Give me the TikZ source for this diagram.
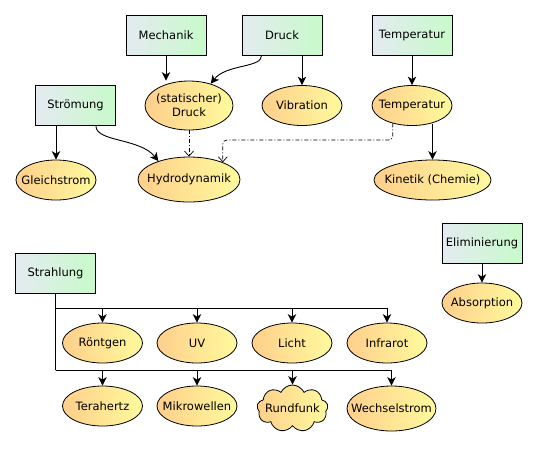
\documentclass[tikz,border=0pt]{standalone}
\usepackage{fontspec}
\setmainfont{DejaVu Sans}
\usetikzlibrary{arrows.meta,shapes.geometric,shapes.symbols,calc}
\definecolor{boxL}{HTML}{E4EBF1}
\definecolor{boxR}{HTML}{C8FACA}
\definecolor{ellL}{HTML}{FFCF8C}
\definecolor{ellR}{HTML}{FFFA9C}
\newcommand{\zt}[1]{\makebox[0pt][c]{#1}}
\tikzset{
  box/.style={draw=black, line width=0.9pt, left color=boxL, right color=boxR,
    minimum width=80, minimum height=40, inner sep=0pt, font=\fontsize{11.5}{13.5}\selectfont},
  ell/.style={ellipse, draw=black, line width=0.8pt, left color=ellL, right color=ellR,
    minimum width=80, minimum height=40, inner sep=0pt, font=\fontsize{11.5}{13.5}\selectfont, align=center},
  cld/.style={cloud, cloud puffs=9, cloud puff arc=130, aspect=1.5, draw=black, line width=0.8pt,
    left color=ellL, right color=ellR, minimum width=71, minimum height=47, inner sep=0pt,
    font=\fontsize{11.5}{13.5}\selectfont},
  arr/.style={line width=0.9pt, -{Stealth[length=8.5pt,width=8.5pt,inset=2.5pt]}},
  darr/.style={line width=0.7pt, dash pattern=on 4pt off 2pt on 1pt off 2pt,
    -{Straight Barb[length=5pt,width=9pt]}, rounded corners=4pt},
}
\begin{document}
\begin{tikzpicture}[x=1pt,y=-1pt]
\useasboundingbox (0,0) rectangle (538,451);
% boxes
\node[box] (mech) at (166,35) {Mechanik};
\node[box] (druck) at (282,35) {Druck};
\node[box] (tempB) at (412,35) {Temperatur};
\node[box] (stroem) at (75.5,105.5) {Strömung};
\node[box] (strahl) at (55.5,273) {Strahlung};
\node[box] (elim) at (482,243) {Eliminierung};
% ellipses
\node[ell, minimum width=88, minimum height=49] (sd) at (189,105.5) {\zt{\shortstack{(statischer)\\[1pt]Druck}}};
\node[ell] (vib) at (302,105.5) {\zt{Vibration}};
\node[ell] (tempE) at (412,105.5) {\zt{Temperatur}};
\node[ell] (gleich) at (56,180) {\zt{Gleichstrom}};
\node[ell, minimum width=102, minimum height=45] (hydro) at (189,179.5) {\zt{Hydrodynamik}};
\node[ell, minimum width=117] (kin) at (432.5,180) {\zt{Kinetik (Chemie)}};
\node[ell] (abs) at (482,303) {\zt{Absorption}};
\node[ell] (roe) at (102.5,343) {\zt{Röntgen}};
\node[ell] (uv) at (197,343) {\zt{UV}};
\node[ell] (licht) at (292,343) {\zt{Licht}};
\node[ell] (infra) at (387,343) {\zt{Infrarot}};
\node[ell] (tera) at (102.5,406) {\zt{Terahertz}};
\node[ell] (mikro) at (197,406) {\zt{Mikrowellen}};
\node[cld] (rund) at (292.5,408.5) {\zt{Rundfunk}};
\node[ell, minimum width=89, minimum height=45] (wech) at (391.5,408.5) {\zt{Wechselstrom}};
% connectors top
\draw[arr] (mech) -- (mech |- sd.north);
\draw[arr] ($(druck.south west)+(20,0)$) .. controls (262,68) and (226,64) .. (sd.45);
\draw[arr] (druck.south -| vib) -- (vib.north);
\draw[arr] (tempB) -- (tempE);
\draw[arr] (tempE.south -| kin.north) ++(0,-2) -- (kin.north);
\draw[arr] (stroem.south -| gleich) -- (gleich);
\draw[arr] ($(stroem.south east)+(-20,0)$) .. controls (96,142) and (140,138) .. (hydro.149);
\draw[darr] (sd) -- (hydro);
\draw[darr] (tempE.223) |- (hydro.27 |- 0,140) -- (hydro.27);
\draw[arr] (elim) -- (abs);
% Strahlung buses
\coordinate (b1) at (strahl.south |- 0,308);
\coordinate (b2) at (strahl.south |- 0,370);
\draw[arr] (strahl.south) -- (b1) -| (roe.north);
\draw[arr] (b1) -| (uv.north);
\draw[arr] (b1) -| (licht.north);
\draw[arr] (b1) -| (infra.north);
\draw[line width=0.9pt] (b1) -- (b2);
\draw[arr] (b2) -| (tera.north);
\draw[arr] (b2) -| (mikro.north);
\draw[arr] (b2) -| (rund.north);
\draw[arr] (b2) -| (wech.north);
\end{tikzpicture}
\end{document}
